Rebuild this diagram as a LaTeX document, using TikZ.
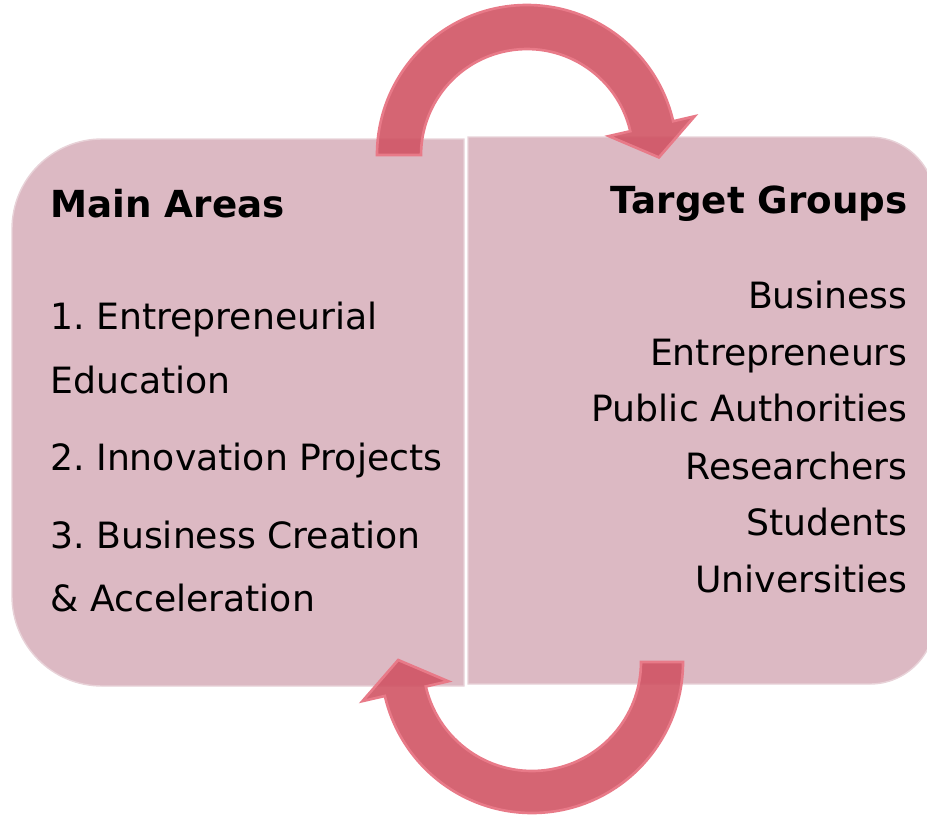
\documentclass[tikz,border=0pt]{standalone}
\usepackage{fontspec}
\setmainfont{DejaVu Sans}
\frenchspacing
\definecolor{boxpink}{RGB}{220,185,195}
\definecolor{boxedge}{RGB}{232,210,216}
\definecolor{arrowred}{RGB}{208,84,100}
\definecolor{arrowedge}{RGB}{232,122,136}
\begin{document}
\begin{tikzpicture}
		[x=0.02cm,y=0.02cm,yscale=-1,
		box/.style={fill=boxpink,draw=boxedge,line width=0.8pt},
		loop arrow/.style={fill=arrowred,draw=arrowedge,line width=1.5pt,fill opacity=0.9},
		head/.style={font=\bfseries\fontsize{21.2}{24}\selectfont,inner sep=0pt},
		item/.style={font=\fontsize{20.6}{24}\selectfont,inner sep=0pt}]
		\useasboundingbox (0,0) rectangle (927,815);
		% the two halves
		\draw[box] (464,139) -- (102,139) arc[start angle=270,end angle=180,radius=90]
			-- (12,596) arc[start angle=180,end angle=90,radius=90] -- (464,686) -- cycle;
		\draw[box] (468,137) -- (870,137) arc[start angle=270,end angle=360,radius=65]
			-- (935,619) arc[start angle=0,end angle=90,radius=65] -- (468,684) -- cycle;
		% curved arrows
		\draw[loop arrow] (377,155) arc[start angle=180,end angle=347,radius=150]
			-- (694.6,116.3) -- (658.9,157.4) -- (608.8,136.1) -- (630.3,131.2)
			arc[start angle=347,end angle=180,radius=106] -- cycle;
		\draw[loop arrow] (683,662) arc[start angle=0,end angle=167,radius=151]
			-- (362.5,701.1) -- (398.2,660.0) -- (448.3,681.3) -- (425.8,686.5)
			arc[start angle=167,end angle=0,radius=109] -- cycle;
		% left texts
		\node[head,anchor=base west,name=areas] at (50,217) {Main Areas};
		\node[item,anchor=base west,name=a1] at (50,329) {1. Entrepreneurial};
		\node[item,anchor=base west,name=a1b] at (50,393) {Education};
		\node[item,anchor=base west,name=a2] at (50,470) {2. Innovation Projects};
		\node[item,anchor=base west,name=a3] at (50,548) {3. Business Creation};
		\node[item,anchor=base west,name=a3b] at (50,611) {\& Acceleration};
		% right texts
		\node[head,anchor=base east,name=groups] at (908,213) {Target Groups};
		\node[item,anchor=base east,name=g1] at (908,308) {Business};
		\node[item,anchor=base east,name=g2] at (908,365) {Entrepreneurs};
		\node[item,anchor=base east,name=g3] at (908,421) {Public Authorities};
		\node[item,anchor=base east,name=g4] at (908,479) {Researchers};
		\node[item,anchor=base east,name=g5] at (908,535) {Students};
		\node[item,anchor=base east,name=g6] at (908,592) {Universities};
	\end{tikzpicture}
\end{document}
